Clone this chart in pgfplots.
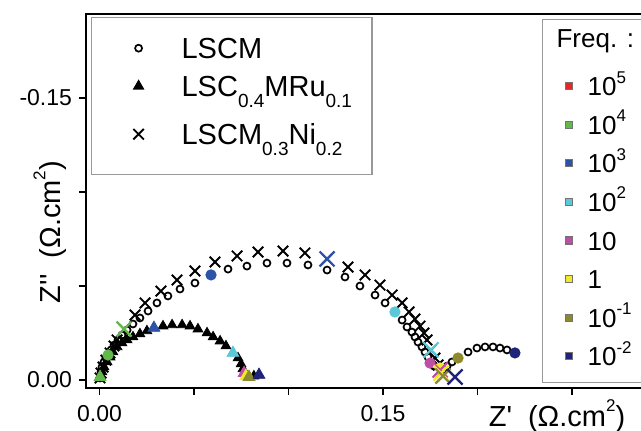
\documentclass[border=0pt]{standalone}
\usepackage{fontspec}
\setmainfont{Liberation Sans}
\usepackage{pgfplots}
\pgfplotsset{compat=1.18}
\definecolor{cred}{RGB}{232,38,42}
\definecolor{cgreen}{RGB}{98,185,74}
\definecolor{cblue}{RGB}{45,83,168}
\definecolor{ccyan}{RGB}{91,200,216}
\definecolor{cmag}{RGB}{191,79,166}
\definecolor{cyel}{RGB}{240,234,42}
\definecolor{colive}{RGB}{140,138,42}
\definecolor{cnavy}{RGB}{31,35,122}
\newcommand\sub[1]{\raisebox{-5.3pt}{\fontsize{9.5}{10}\selectfont #1}}
\newcommand\supf[1]{\raisebox{6.3pt}{\fontsize{8.5}{9}\selectfont #1}}
\newcommand\supl[1]{\raisebox{7.5pt}{\fontsize{8.5}{9}\selectfont #1}}
\newcommand\qq{\textquotesingle}
\begin{document}
\begin{tikzpicture}
\useasboundingbox (-43pt,-21pt) rectangle (277.5pt,194pt);
\begin{axis}[
  at={(0pt,0pt)}, anchor=south west,
  scale only axis, width=290.25pt, height=187pt,
  xmin=-0.00714, xmax=0.30, ymin=-0.1947, ymax=0.00426, y dir=reverse,
  axis line style={line width=1pt},
  xtick={0,0.05,0.10,0.15,0.20,0.25}, xticklabels={0.00,,,0.15,,},
  ytick={-0.15,-0.10,-0.05,0}, yticklabels={-0.15,,,0.00},
  tick align=outside, tick pos=left, major tick length=3.5pt,
  tick style={line width=0.8pt, black},
  ticklabel style={font=\fontsize{11.5}{13}\selectfont},
  xticklabel style={yshift=-1.5pt},
  xlabel={Z\qq\hspace{0.55em}(Ω.cm\supl{2})},
  ylabel={Z\qq\qq\hspace{0.55em}(Ω.cm\supl{2})},
  label style={font=\fontsize{14.5}{16}\selectfont},
  xlabel style={at={(axis description cs:0.8114,-0.0749)}, anchor=center},
  ylabel style={at={(axis description cs:-0.062,0.417)}, anchor=center},
  legend cell align=left,
  legend style={at={(axis description cs:0.0086,0.992)}, anchor=north west,
    draw=gray!80, line width=0.6pt, inner xsep=10pt, inner ysep=7pt,
    column sep=0pt, row sep=0pt, nodes={inner sep=0pt, text depth={}},
    font=\fontsize{14.5}{16}\selectfont},
  legend image code/.code={\path[draw=none,fill=none] (0pt,0pt) -- (35pt,0pt); \draw[#1] plot coordinates {(13.5pt,0pt)};},
]
% LSCM
\addplot[only marks, mark=o, mark size=1.75pt, mark options={line width=0.85pt}, black] coordinates {
(0.0003,-0.0011) (0.0008,-0.0043) (0.0013,-0.0069) (0.0024,-0.0096) (0.0034,-0.0117)
(0.0045,-0.0133) (0.0061,-0.0160) (0.0077,-0.0186) (0.0098,-0.0213) (0.0119,-0.0239)
(0.0146,-0.0266) (0.0177,-0.0298) (0.0214,-0.0330) (0.0257,-0.0367) (0.0304,-0.0410)
(0.0362,-0.0447) (0.0426,-0.0484) (0.0505,-0.0516) (0.0590,-0.0559) (0.0680,-0.0590)
(0.0780,-0.0606) (0.0886,-0.0622) (0.0992,-0.0622) (0.1103,-0.0612) (0.1204,-0.0585)
(0.1299,-0.0548) (0.1378,-0.0500) (0.1458,-0.0452) (0.1511,-0.0410) (0.1563,-0.0362)
(0.1601,-0.0319) (0.1627,-0.0282) (0.1653,-0.0255) (0.1669,-0.0229) (0.1685,-0.0202)
(0.1706,-0.0176) (0.1722,-0.0149) (0.1738,-0.0122) (0.1749,-0.0090) (0.1770,-0.0074)
(0.1802,-0.0064) (0.1817,-0.0053) (0.1839,-0.0074) (0.1865,-0.0096) (0.1897,-0.0117)
(0.1950,-0.0149) (0.1997,-0.0170) (0.2040,-0.0176) (0.2082,-0.0176) (0.2119,-0.0170)
(0.2156,-0.0160) (0.2198,-0.0144)
};
\addlegendentry{LSCM\rule[-3.1pt]{0pt}{16.6pt}}
% LSC0.4MRu0.1
\addplot[only marks, mark=triangle*, mark size=2.8pt, black] coordinates {
(0.0003,-0.0016) (0.0013,-0.0043) (0.0024,-0.0069) (0.0040,-0.0096) (0.0056,-0.0122)
(0.0071,-0.0149) (0.0093,-0.0176) (0.0119,-0.0197) (0.0146,-0.0213) (0.0177,-0.0229)
(0.0214,-0.0245) (0.0251,-0.0261) (0.0288,-0.0277) (0.0336,-0.0287) (0.0384,-0.0293)
(0.0437,-0.0293) (0.0479,-0.0287) (0.0521,-0.0271) (0.0569,-0.0250) (0.0601,-0.0229)
(0.0638,-0.0207) (0.0669,-0.0181) (0.0706,-0.0144) (0.0733,-0.0117) (0.0749,-0.0085)
(0.0759,-0.0059) (0.0765,-0.0037) (0.0775,-0.0021) (0.0791,-0.0016) (0.0817,-0.0021)
(0.0844,-0.0027)
};
\addlegendentry{LSC\sub{0.4}MRu\sub{0.1}\rule[-5.5pt]{0pt}{21.4pt}}
% LSCM0.3Ni0.2
\addplot[only marks, mark=x, mark size=3.7pt, mark options={line width=0.95pt}, black] coordinates {
(0.0003,-0.0011) (0.0008,-0.0037) (0.0019,-0.0069) (0.0034,-0.0106) (0.0056,-0.0144)
(0.0077,-0.0181) (0.0093,-0.0213) (0.0130,-0.0271) (0.0188,-0.0346) (0.0241,-0.0410)
(0.0325,-0.0473) (0.0410,-0.0532) (0.0505,-0.0580) (0.0611,-0.0628) (0.0728,-0.0660)
(0.0839,-0.0681) (0.0971,-0.0686) (0.1087,-0.0676) (0.1204,-0.0644) (0.1315,-0.0601)
(0.1405,-0.0559) (0.1484,-0.0505) (0.1548,-0.0452) (0.1601,-0.0410) (0.1638,-0.0362)
(0.1669,-0.0324) (0.1696,-0.0287) (0.1717,-0.0250) (0.1733,-0.0213) (0.1754,-0.0160)
(0.1775,-0.0117) (0.1791,-0.0080) (0.1802,-0.0053) (0.1807,-0.0037) (0.1817,-0.0021)
(0.1881,-0.0016)
};
\addlegendentry{LSCM\sub{0.3}Ni\sub{0.2}\rule[-8.1pt]{0pt}{26.6pt}}
% coloured frequency markers: LSCM (circles)
\addplot[forget plot, only marks, mark=*, mark size=2.6pt, cgreen] coordinates {(0.0045,-0.0133)};
\addplot[forget plot, only marks, mark=*, mark size=2.6pt, cblue] coordinates {(0.0590,-0.0559)};
\addplot[forget plot, only marks, mark=*, mark size=2.6pt, ccyan] coordinates {(0.1563,-0.0362)};
\addplot[forget plot, only marks, mark=*, mark size=2.6pt, cmag] coordinates {(0.1749,-0.0090)};
\addplot[forget plot, only marks, mark=*, mark size=2.6pt, cyel] coordinates {(0.1802,-0.0064)};
\addplot[forget plot, only marks, mark=*, mark size=2.6pt, colive] coordinates {(0.1897,-0.0117)};
\addplot[forget plot, only marks, mark=*, mark size=2.6pt, cnavy] coordinates {(0.2198,-0.0144)};
% triangles
\addplot[forget plot, only marks, mark=triangle*, mark size=3.4pt, cgreen] coordinates {(0.0003,-0.0016)};
\addplot[forget plot, only marks, mark=triangle*, mark size=3.4pt, cblue] coordinates {(0.0288,-0.0277)};
\addplot[forget plot, only marks, mark=triangle*, mark size=3.4pt, ccyan] coordinates {(0.0706,-0.0144)};
\addplot[forget plot, only marks, mark=triangle*, mark size=3.4pt, cmag] coordinates {(0.0765,-0.0037)};
\addplot[forget plot, only marks, mark=triangle*, mark size=3.4pt, cyel] coordinates {(0.0775,-0.0021)};
\addplot[forget plot, only marks, mark=triangle*, mark size=3.4pt, colive] coordinates {(0.0791,-0.0016)};
\addplot[forget plot, only marks, mark=triangle*, mark size=3.4pt, cnavy] coordinates {(0.0844,-0.0027)};
% crosses
\addplot[forget plot, only marks, mark=x, mark size=5.3pt, mark options={line width=1.1pt}, cgreen] coordinates {(0.0130,-0.0271)};
\addplot[forget plot, only marks, mark=x, mark size=5.3pt, mark options={line width=1.1pt}, cblue] coordinates {(0.1204,-0.0644)};
\addplot[forget plot, only marks, mark=x, mark size=5.3pt, mark options={line width=1.1pt}, ccyan] coordinates {(0.1754,-0.0160)};
\addplot[forget plot, only marks, mark=x, mark size=5.3pt, mark options={line width=1.1pt}, cmag] coordinates {(0.1802,-0.0053)};
\addplot[forget plot, only marks, mark=x, mark size=5.3pt, mark options={line width=1.1pt}, cyel] coordinates {(0.1807,-0.0037)};
\addplot[forget plot, only marks, mark=x, mark size=5.3pt, mark options={line width=1.1pt}, colive] coordinates {(0.1817,-0.0021)};
\addplot[forget plot, only marks, mark=x, mark size=5.3pt, mark options={line width=1.1pt}, cnavy] coordinates {(0.1881,-0.0016)};
\end{axis}
\begin{axis}[
  at={(0pt,0pt)}, anchor=south west,
  scale only axis, width=290.25pt, height=187pt,
  xmin=0, xmax=1, ymin=0, ymax=1, hide axis,
  legend cell align=left,
  legend style={at={(axis description cs:0.7855,0.9866)}, anchor=north west,
    draw=gray!80, line width=0.6pt, inner xsep=6pt, inner ysep=3.6pt,
    column sep=0pt, row sep=0pt, nodes={inner sep=0pt, text depth={}},
    font=\fontsize{13}{15}\selectfont},
  legend image code/.code={\path[draw=none,fill=none] (0pt,0pt) -- (16.5pt,0pt); \draw[#1] plot coordinates {(7pt,0pt)};},
]
\addlegendimage{empty legend}
\addlegendentry{\hspace{-15.5pt}Freq. :\rule[-9.6pt]{0pt}{20pt}}
\addlegendimage{only marks, mark=square*, mark size=1.75pt, draw=black!55, fill=cred}
\addlegendentry{10\supf{5}\rule[-4.9pt]{0pt}{19.3pt}}
\addlegendimage{only marks, mark=square*, mark size=1.75pt, draw=black!55, fill=cgreen}
\addlegendentry{10\supf{4}\rule[-4.9pt]{0pt}{19.3pt}}
\addlegendimage{only marks, mark=square*, mark size=1.75pt, draw=black!55, fill=cblue}
\addlegendentry{10\supf{3}\rule[-4.9pt]{0pt}{19.3pt}}
\addlegendimage{only marks, mark=square*, mark size=1.75pt, draw=black!55, fill=ccyan}
\addlegendentry{10\supf{2}\rule[-4.9pt]{0pt}{19.3pt}}
\addlegendimage{only marks, mark=square*, mark size=1.75pt, draw=black!55, fill=cmag}
\addlegendentry{10\rule[-4.9pt]{0pt}{19.3pt}}
\addlegendimage{only marks, mark=square*, mark size=1.75pt, draw=black!55, fill=cyel}
\addlegendentry{1\rule[-4.9pt]{0pt}{19.3pt}}
\addlegendimage{only marks, mark=square*, mark size=1.75pt, draw=black!55, fill=colive}
\addlegendentry{10\supf{-1}\rule[-4.9pt]{0pt}{19.3pt}}
\addlegendimage{only marks, mark=square*, mark size=1.75pt, draw=black!55, fill=cnavy}
\addlegendentry{10\supf{-2}\rule[-4.9pt]{0pt}{19.3pt}}
\end{axis}
\end{tikzpicture}
\end{document}
